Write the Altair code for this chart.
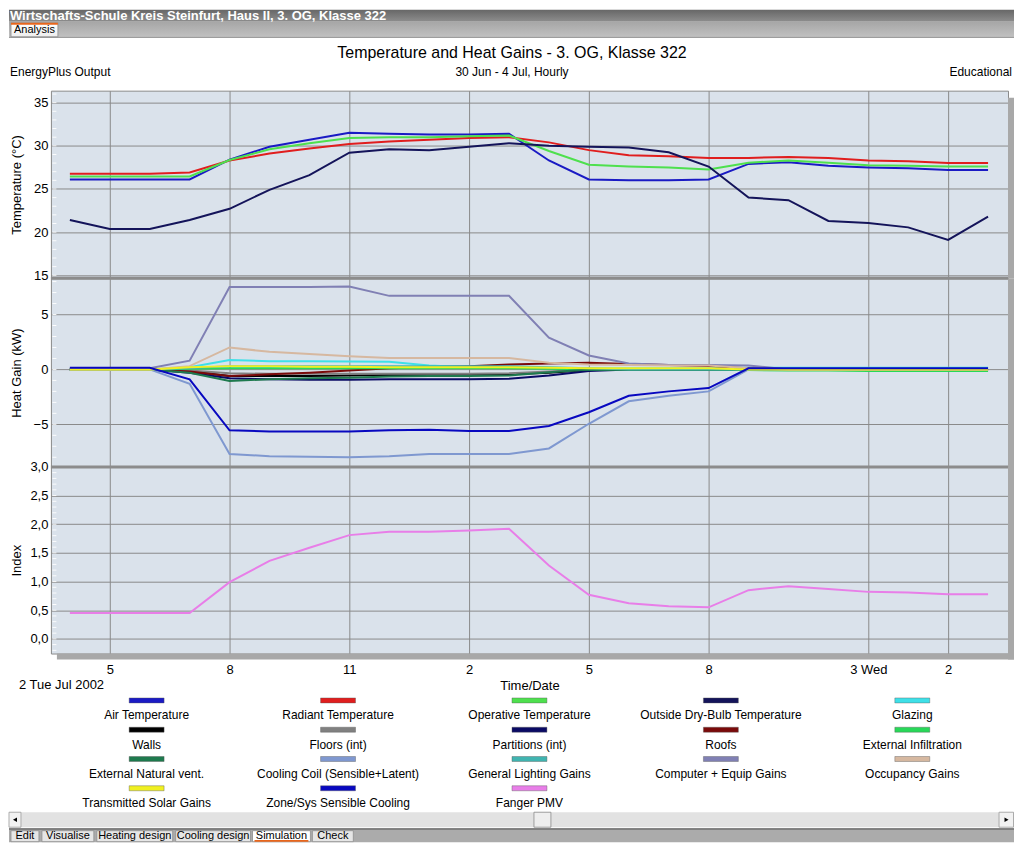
import altair as alt
import pandas as pd

FONT = "Liberation Sans"

# ---------------- data ----------------
hours = list(range(4, 28))  # Tue 2 Jul 04:00 ... Wed 3 Jul 03:00

temp_names = ["Air Temperature", "Radiant Temperature", "Operative Temperature",
              "Outside Dry-Bulb Temperature"]
air_temperature = [26.1, 26.1, 26.1, 26.1, 28.4, 29.9, 30.7, 31.5, 31.4, 31.3, 31.3, 31.4,
                   28.3, 26.1, 26.0, 26.0, 26.1, 27.9, 28.1, 27.7, 27.5, 27.4, 27.2, 27.2]
radiant_temperature = [26.75, 26.75, 26.75, 26.9, 28.3, 29.1, 29.7, 30.2, 30.5, 30.7, 30.9, 31.0,
                       30.4, 29.5, 28.9, 28.8, 28.6, 28.6, 28.7, 28.6, 28.3, 28.2, 28.0, 28.0]
operative_temperature = [26.45, 26.45, 26.45, 26.45, 28.35, 29.6, 30.3, 30.9, 31.0, 31.0, 31.1, 31.2,
                         29.4, 27.8, 27.6, 27.5, 27.25, 28.05, 28.3, 28.05, 27.75, 27.7, 27.6, 27.6]
outside_dry_bulb = [21.4, 20.35, 20.35, 21.4, 22.7, 24.9, 26.6, 29.2, 29.6, 29.5, 29.9, 30.3,
                    30.0, 29.9, 29.8, 29.25, 27.6, 24.0, 23.7, 21.3, 21.05, 20.55, 19.1, 21.8]

gain_names = ["Glazing", "Walls", "Floors (int)", "Partitions (int)", "Roofs",
              "External Infiltration", "External Natural vent.", "Cooling Coil (Sensible+Latent)",
              "General Lighting Gains", "Computer + Equip Gains", "Occupancy Gains",
              "Transmitted Solar Gains", "Zone/Sys Sensible Cooling"]
glazing = [0, 0, 0, 0.2, 0.85, 0.75, 0.75, 0.72, 0.7, 0.35, 0.2, 0.2,
           0.15, 0.1, 0.1, 0.1, 0.1, 0.15, 0.15, 0.15, 0.15, 0.15, 0.15, 0.15]
walls = [0, 0, 0, -0.2, -0.6, -0.6, -0.6, -0.55, -0.5, -0.5, -0.5, -0.45,
         -0.3, -0.05, 0, 0, 0, 0, 0, 0, 0, 0, 0, 0]
floors = [0, 0, 0, -0.1, -0.35, -0.4, -0.4, -0.4, -0.4, -0.4, -0.4, -0.35,
          -0.2, 0, 0, 0, 0, 0, 0, 0, 0, 0, 0, 0]
partitions = [0, 0, 0, -0.3, -0.8, -0.9, -0.95, -0.95, -0.9, -0.9, -0.9, -0.85,
              -0.55, -0.15, 0, 0, 0, 0, 0, 0, -0.05, -0.1, -0.1, -0.1]
roofs = [0, 0, 0, -0.2, -0.6, -0.45, -0.3, -0.1, 0.1, 0.2, 0.3, 0.45,
         0.55, 0.6, 0.5, 0.4, 0.3, 0.1, 0, 0, 0, 0, 0, 0]
external_infiltration = [0, 0, 0, 0.05, 0.1, 0.1, 0.1, 0.1, 0.1, 0.1, 0.1, 0.1,
                         0.05, 0, 0, 0, 0, -0.05, -0.1, -0.1, -0.15, -0.15, -0.15, -0.15]
external_natural_vent = [0, 0, 0, -0.3, -1.05, -0.9, -0.8, -0.75, -0.65, -0.6, -0.6, -0.55,
                         -0.25, 0, 0, 0, 0, 0, 0, 0, 0, 0, 0, 0]
cooling_coil = [0, 0, 0, -1.3, -7.7, -7.9, -7.95, -8.0, -7.9, -7.7, -7.7, -7.7,
                -7.2, -4.95, -2.9, -2.4, -2.0, 0, 0, 0, 0, 0, 0, 0]
general_lighting = [0, 0, 0, 0.1, 0.3, 0.3, 0.3, 0.3, 0.3, 0.3, 0.3, 0.3,
                    0.2, 0.1, 0, 0, 0, 0, 0, 0, 0, 0, 0, 0]
computer_equip = [0.1, 0.1, 0.1, 0.8, 7.5, 7.5, 7.5, 7.55, 6.7, 6.7, 6.7, 6.7,
                  2.9, 1.27, 0.55, 0.4, 0.4, 0.35, 0, 0, 0, 0, 0, 0]
occupancy = [0, 0, 0, 0.3, 2.0, 1.6, 1.4, 1.2, 1.05, 1.05, 1.05, 1.05,
             0.6, 0.45, 0.4, 0.35, 0.35, 0.1, 0, 0, 0, 0, 0, 0]
transmitted_solar = [0, 0, 0, 0.2, 0.3, 0.3, 0.25, 0.25, 0.2, 0.2, 0.2, 0.2,
                     0.15, 0.1, 0.1, 0.1, 0.1, 0, 0, 0, 0, 0, 0, 0]
zone_sys_cooling = [0.15, 0.15, 0.15, -0.9, -5.55, -5.65, -5.65, -5.65, -5.55, -5.5, -5.6, -5.6,
                    -5.15, -3.9, -2.4, -2.0, -1.7, 0.1, 0.1, 0.1, 0.1, 0.1, 0.1, 0.1]

pmv_names = ["Fanger PMV"]
fanger_pmv = [0.45, 0.45, 0.45, 0.45, 0.99, 1.36, 1.59, 1.81, 1.87, 1.87, 1.89, 1.92,
              1.28, 0.77, 0.62, 0.57, 0.55, 0.85, 0.92, 0.87, 0.82, 0.81, 0.78, 0.78]

legend_names = temp_names + gain_names + pmv_names
legend_colors = ["#1a1ac4", "#e01e1e", "#4ee04e", "#14145a", "#3ee0e8",
                 "#000000", "#808080", "#0a0a64", "#7a0a0a", "#28d858",
                 "#1e7a4e", "#7f98d0", "#40b4b0", "#8080b4", "#d6b8a0",
                 "#f0f020", "#0808c0", "#e87ee8"]

x_ticks = [5, 8, 11, 14, 17, 20, 24, 26]
temp_ticks = [15, 20, 25, 30, 35]
gain_ticks = [-5, 0, 5]
pmv_ticks = [0, 0.5, 1.0, 1.5, 2.0, 2.5, 3.0]
temp_minor = list(range(15, 37))
gain_minor = list(range(-8, 9))
pmv_minor = [i / 10 for i in range(-2, 31)]


def long_df(names, series):
    return pd.DataFrame([{"hour": h, "value": v, "series": n}
                         for n, vals in zip(names, series) for h, v in zip(hours, vals)])


temp_df = long_df(temp_names, [air_temperature, radiant_temperature,
                               operative_temperature, outside_dry_bulb])
gain_df = long_df(gain_names, [glazing, walls, floors, partitions, roofs, external_infiltration,
                               external_natural_vent, cooling_coil, general_lighting,
                               computer_equip, occupancy, transmitted_solar, zone_sys_cooling])
pmv_df = long_df(pmv_names, [fanger_pmv])
legend_df = pd.DataFrame({"series": legend_names,
                          "col": [i % 5 for i in range(len(legend_names))],
                          "row": [i // 5 for i in range(len(legend_names))]})

# ---------------- styling / layout ----------------
W = 959
H1, H2, H3, H4 = 188, 189, 187, 189
RIGHT = 965          # right edge of the window chrome (plot-relative px)
BG = "#dae2eb"
BORDER = "#8a8a8a"
SHADOW = "#a8a8a8"
X_DOMAIN = [3.525, 27.5]

color = alt.Color("series:N", scale=alt.Scale(domain=legend_names, range=legend_colors), legend=None)
one = pd.DataFrame({"k": [0]})


def box(x, x2, y, y2, **kw):
    return alt.Chart(one).mark_rect(**kw).encode(
        x=alt.value(x), x2=alt.value(x2), y=alt.value(y), y2=alt.value(y2))


def label(x, y, text, **kw):
    kw.setdefault("font", FONT)
    return alt.Chart(one).mark_text(text=text, **kw).encode(x=alt.value(x), y=alt.value(y))


def vgrad(c1, c2):
    return alt.LinearGradient(gradient="linear",
                              stops=[alt.GradientStop(color=c1, offset=0),
                                     alt.GradientStop(color=c2, offset=1)],
                              x1=0, x2=0, y1=0, y2=1)


def x_enc(show):
    if show:
        axis = alt.Axis(values=x_ticks, grid=True, labelPadding=10, titleY=32,
                        titleBaseline="middle",
                        labelExpr="datum.value == 24 ? '3 Wed' : '' + (datum.value % 12 == 0 ? 12 : datum.value % 12)")
        return alt.X("hour:Q", title="Time/Date",
                     scale=alt.Scale(domain=X_DOMAIN, nice=False, zero=False), axis=axis)
    axis = alt.Axis(values=x_ticks, grid=True, labels=False)
    return alt.X("hour:Q", title=None,
                 scale=alt.Scale(domain=X_DOMAIN, nice=False, zero=False), axis=axis)


def y_enc(title, domain, ticks, expr=None):
    kw = dict(values=ticks, grid=True, labelPadding=3, titleX=-34, titleBaseline="middle")
    if expr:
        kw["labelExpr"] = expr
    return alt.Y("value:Q", title=title, scale=alt.Scale(domain=domain, nice=False, zero=False),
                 axis=alt.Axis(**kw))


def minor_ticks(values, yenc):
    df = pd.DataFrame({"value": values})
    return alt.Chart(df).mark_tick(orient="horizontal", size=4, thickness=1, color="#ffffff",
                                   opacity=0.9).encode(x=alt.value(3.5), y=yenc)


view_style = alt.ViewBackground(fill=BG, stroke=BORDER, strokeWidth=1)

temp_y = y_enc("Temperature (°C)", [14.65, 36.39], temp_ticks)
gain_y = y_enc("Heat Gain (kW)", [-8.88, 8.3], gain_ticks)
pmv_y = y_enc("Index", [-0.256, 3.0], pmv_ticks, "replace(format(datum.value, '.1f'), '.', ',')")

# ---- panel 1 : temperatures + window header ----
temp_lines = alt.Chart(temp_df).mark_line(strokeWidth=2, clip=True).encode(
    x=x_enc(False), y=temp_y, color=color)

header = [
    box(-42, RIGHT, -81, -69, fill=vgrad("#676767", "#8e8e8e")),
    label(-41, -70.5, "Wirtschafts-Schule Kreis Steinfurt, Haus II, 3. OG, Klasse 322",
          align="left", baseline="alphabetic", fontSize=13, fontWeight="bold", color="#ffffff"),
    box(-42, RIGHT, -69, -54, fill=vgrad("#a6a6a6", "#c0c0c0")),
    box(-42, RIGHT, -54, -53, fill="#7c7c7c"),
    box(-40, 7, -68, -54, fill=vgrad("#ffffff", "#eeeeee"), stroke="#8a8a8a", strokeWidth=0.8),
    box(-40, 7, -68, -66, fill="#e8661c"),
    label(-16.5, -57.5, "Analysis", align="center", baseline="alphabetic", fontSize=11, color="#000000"),
    label(462, -33, "Temperature and Heat Gains - 3. OG, Klasse 322", align="center",
          baseline="alphabetic", fontSize=16, color="#000000"),
    label(-41, -15, "EnergyPlus Output", align="left", baseline="alphabetic", fontSize=12, color="#000000"),
    label(462, -15, "30 Jun - 4 Jul, Hourly", align="center", baseline="alphabetic", fontSize=12, color="#000000"),
    label(963, -15, "Educational", align="right", baseline="alphabetic", fontSize=12, color="#000000"),
    box(W, W + 6, 7, H1, fill=SHADOW),
]
p1 = alt.layer(temp_lines, minor_ticks(temp_minor, temp_y), *header).properties(
    width=W, height=H1, view=view_style)


def divider():
    return alt.Chart(one).mark_rule(color="#8c8c8c", strokeWidth=3).encode(
        x=alt.value(0), x2=alt.value(W), y=alt.value(0))


# ---- panel 2 : heat gains ----
gain_lines = alt.Chart(gain_df).mark_line(strokeWidth=2, clip=True).encode(
    x=x_enc(False), y=gain_y, color=color)
p2 = alt.layer(gain_lines, minor_ticks(gain_minor, gain_y), divider(),
               box(W, W + 6, 0, H2, fill=SHADOW)).properties(width=W, height=H2, view=view_style)

# ---- panel 3 : comfort index ----
pmv_lines = alt.Chart(pmv_df).mark_line(strokeWidth=2, clip=True).encode(
    x=x_enc(True), y=pmv_y, color=color)
p3 = alt.layer(pmv_lines, minor_ticks(pmv_minor, pmv_y), divider(),
               box(W, W + 6, 0, H3 + 6, fill=SHADOW),
               box(6, W + 6, H3, H3 + 6, fill=SHADOW)).properties(width=W, height=H3, view=view_style)

# ---- panel 4 : legend + window footer ----
lx = alt.X("col:Q", scale=alt.Scale(domain=[-0.5, 4.5], nice=False, zero=False), axis=None)
ly = alt.Y("row:Q", scale=alt.Scale(domain=[-1.602, 4.841], reverse=True, nice=False, zero=False), axis=None)
swatches = alt.Chart(legend_df).mark_tick(orient="horizontal", size=35, thickness=5, opacity=1,
                                          stroke="#555555", strokeWidth=0.4).encode(x=lx, y=ly, color=color)
names = alt.Chart(legend_df).mark_text(dy=15, fontSize=12, font=FONT, color="#000000").encode(
    x=lx, y=ly, text="series:N")

tabs = [("Edit", 10, 38), ("Visualise", 41, 93), ("Heating design", 96, 172),
        ("Cooling design", 175, 250), ("Simulation", 252, 310), ("Check", 312, 353)]
footer = [
    label(-32, 32, "2 Tue Jul 2002", align="left", baseline="middle", fontSize=13, color="#000000"),
    box(-42, RIGHT, 159, 174, fill="#e2e2e2"),
    box(-42, -30, 159, 174, fill="#f2f2f2", stroke="#9a9a9a", strokeWidth=0.8),
    box(RIGHT - 15, RIGHT - 0.5, 159, 174, fill="#f2f2f2", stroke="#9a9a9a", strokeWidth=0.8),
    box(484, 501, 159, 174, fill="#eeeeee", stroke="#8a8a8a", strokeWidth=0.8),
    alt.Chart(one).mark_point(shape="triangle-left", filled=True, color="#000000", size=22, opacity=1).encode(
        x=alt.value(-36), y=alt.value(166.5)),
    alt.Chart(one).mark_point(shape="triangle-right", filled=True, color="#000000", size=22, opacity=1).encode(
        x=alt.value(RIGHT - 7.5), y=alt.value(166.5)),
    box(-42, RIGHT, 175, 189, fill="#ababab"),
    box(-42, RIGHT, 175, 176.5, fill="#707070"),
]
for name, a, b in tabs:
    active = name == "Simulation"
    footer.append(box(a - 50, b - 50, 177.5, 188.5, fill="#ffffff" if active else "#e6e6e6",
                      stroke="#8e8e8e", strokeWidth=0.8))
    footer.append(label((a + b) / 2 - 50, 186, name, align="center", baseline="alphabetic",
                        fontSize=11, color="#000000"))
    if active:
        footer.append(box(a - 48, b - 52, 186.8, 188.5, fill="#e8661c"))

p4 = alt.layer(swatches, names, *footer).properties(
    width=W, height=H4,
    view=alt.ViewBackground(fill="transparent", stroke="transparent", strokeOpacity=0, strokeWidth=0))

chart = alt.vconcat(p1, p2, p3, p4, spacing=0, bounds="flush").resolve_scale(
    x="independent", y="independent"
).properties(padding=0, background="#ffffff").configure_axis(
    labelFont=FONT, titleFont=FONT, labelFontSize=13, titleFontSize=13,
    labelColor="#000000", titleColor="#000000", titleFontWeight="normal",
    gridColor="#8a8a8a", gridOpacity=1, gridWidth=1, domain=False, ticks=False, tickSize=0
).configure_text(font=FONT)

chart.save("out.html", embed_options={"renderer": "svg", "actions": False})
